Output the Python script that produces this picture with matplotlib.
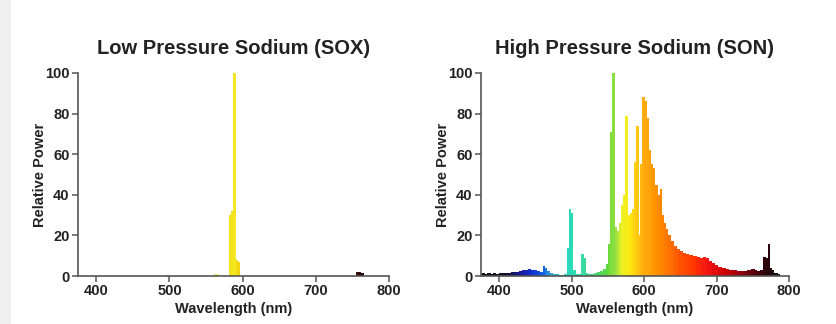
import numpy as np
import matplotlib
matplotlib.use('Agg')
import matplotlib.pyplot as plt
from matplotlib.colors import LinearSegmentedColormap

# Low pressure sodium (SOX) spectrum
sox_wl = [496, 562, 566, 583, 586, 589, 592, 595, 756, 760, 764]
sox_power = [0.6, 1.2, 1.0, 30, 32, 100, 8, 7, 1.8, 2.2, 1.6]
sox_colors = ['#40d8c0', '#d8f070', '#e8f060', '#f2e21a', '#f2e21a', '#f4e620',
              '#f2da10', '#f2d410', '#401010', '#300808', '#200808']

# High pressure sodium (SON) spectrum
son_wl = [378, 382, 386, 390, 394, 398, 402, 406, 410, 414,
          418, 422, 426, 430, 434, 438, 442, 446, 450, 454,
          458, 462, 465, 468, 472, 476, 480, 484, 488, 492,
          495, 498, 501, 504, 508, 512, 515, 518, 521, 525,
          529, 533, 537, 541, 545, 549, 552, 555, 558, 561,
          564, 567, 570, 573, 576, 579, 582, 585, 588, 591,
          594, 596, 599, 602, 605, 608, 611, 614, 617, 620,
          623, 626, 629, 632, 635, 639, 643, 647, 651, 655,
          660, 665, 670, 675, 680, 684, 688, 692, 696, 700,
          705, 710, 715, 720, 725, 730, 735, 740, 745, 750,
          754, 758, 762, 766, 769, 772, 775, 778, 782, 786]
son_power = [1.5, 1.2, 1.3, 1.1, 1.4, 1.2, 1.5, 1.3, 1.5, 1.7,
             1.8, 2.0, 2.2, 2.6, 3.2, 3.0, 3.4, 3.0, 2.8, 2.3,
             2.0, 5.0, 3.8, 2.5, 1.6, 1.1, 0.8, 0.6, 0.7, 1.0,
             14, 33, 31, 3, 1.0, 1.2, 11, 9, 1.5, 1.0,
             1.0, 1.4, 1.8, 2.5, 3.5, 6, 16, 71, 100, 24,
             22, 26, 35, 40, 79, 30, 31, 33, 56, 74,
             20, 55, 88, 86, 78, 62, 55, 53, 45, 40,
             43, 30, 26, 23, 20, 17, 15, 13.5, 12.5, 11.5,
             11, 10.5, 10, 9.5, 9, 9.5, 9, 7.5, 6.5, 5.5,
             4.5, 4, 3.5, 3, 2.8, 2.5, 2.3, 2.5, 2.8, 3.5,
             3.0, 2.6, 2.8, 9.5, 9, 16, 4, 3, 1.5, 0.8]

spectrum = [(375, '#101010'), (410, '#101030'), (430, '#1a1aa0'), (445, '#1030d0'),
            (460, '#1060e0'), (470, '#30a0e0'), (485, '#30c8d8'), (500, '#28dcb4'),
            (515, '#38dca4'), (535, '#48d468'), (550, '#60d83c'), (560, '#98e040'),
            (570, '#eaf028'), (580, '#ffe810'), (590, '#ffcc10'), (600, '#ffac10'),
            (615, '#ff9400'), (630, '#ff7c00'), (650, '#ff5400'), (670, '#ff3400'),
            (690, '#f01414'), (710, '#d00000'), (730, '#a00010'), (750, '#600010'),
            (765, '#300008'), (790, '#101010')]
cmap = LinearSegmentedColormap.from_list(
    'spec', [((w - 375) / (790 - 375), c) for w, c in spectrum])

plt.rcParams['font.family'] = ['Liberation Sans', 'DejaVu Sans']
plt.rcParams['font.weight'] = 'bold'

fig = plt.figure(figsize=(8.37, 3.24), dpi=100)
fig.patch.set_facecolor('white')
fig.patches.append(plt.Rectangle((0, 0), 11 / 837, 1, transform=fig.transFigure,
                                 facecolor='#efefef', edgecolor='none', zorder=0))

ax1 = fig.add_axes([78 / 837, 48 / 324, 311 / 837, 203 / 324])
ax2 = fig.add_axes([481 / 837, 48 / 324, 308 / 837, 203 / 324])

ax1.bar(sox_wl, sox_power, width=3.5, color=sox_colors, linewidth=0)

son_w = np.gradient(np.array(son_wl, dtype=float)) * 1.08
son_c = cmap((np.array(son_wl) - 375) / (790 - 375))
ax2.bar(son_wl, son_power, width=son_w, color=son_c, linewidth=0)

for ax, title in [(ax1, 'Low Pressure Sodium (SOX)'), (ax2, 'High Pressure Sodium (SON)')]:
    ax.set_xlim(375, 800)
    ax.set_ylim(0, 100)
    ax.set_xticks([400, 500, 600, 700, 800])
    ax.set_yticks([0, 20, 40, 60, 80, 100])
    ax.spines['top'].set_visible(False)
    ax.spines['right'].set_visible(False)
    for s in ['left', 'bottom']:
        ax.spines[s].set_color('#555555')
        ax.spines[s].set_linewidth(1.2)
    ax.tick_params(direction='out', length=4, width=1.1, color='#555555',
                   labelsize=10.5, labelcolor='#222222', pad=2)
    for lab in ax.get_xticklabels() + ax.get_yticklabels():
        lab.set_fontweight('bold')
    ax.set_title(title, fontsize=14.5, fontweight='bold', color='#222222', pad=14)
    ax.set_xlabel('Wavelength (nm)', fontsize=10.5, fontweight='bold', color='#222222', labelpad=3)
    ax.set_ylabel('Relative Power', fontsize=10.5, fontweight='bold', color='#222222', labelpad=-1)

fig.savefig('out.png', dpi=100)
